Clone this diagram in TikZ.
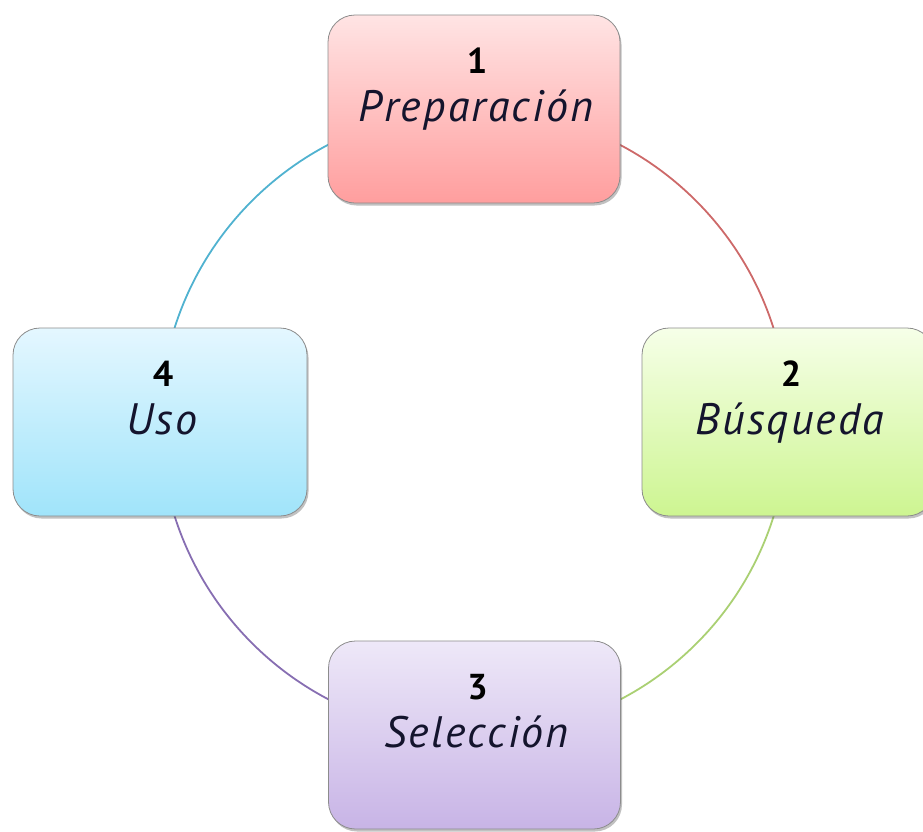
\documentclass[tikz,border=0pt]{standalone}
\usepackage{fontspec}
\newfontfamily\namefont[LetterSpace=5]{PT Sans}
\newfontfamily\digitfont{PT Sans}
\usetikzlibrary{shadows,calc}
\pgfdeclarelayer{bg}
\pgfsetlayers{bg,main}
\definecolor{pTop}{RGB}{255,228,228}
\definecolor{pBot}{RGB}{255,158,158}
\definecolor{gTop}{RGB}{246,255,232}
\definecolor{gBot}{RGB}{205,245,145}
\definecolor{vTop}{RGB}{238,232,248}
\definecolor{vBot}{RGB}{200,180,230}
\definecolor{bTop}{RGB}{228,247,255}
\definecolor{bBot}{RGB}{160,228,250}
\definecolor{arcRed}{RGB}{205,105,105}
\definecolor{arcGreen}{RGB}{170,208,115}
\definecolor{arcViolet}{RGB}{135,110,178}
\definecolor{arcBlue}{RGB}{80,178,208}
\definecolor{edgeGray}{RGB}{140,140,140}
\definecolor{nameInk}{RGB}{20,20,45}
\tikzset{
  stagebox/.style={rectangle, rounded corners=27pt, minimum width=292pt,
    minimum height=188pt, draw=edgeGray, line width=0.8pt, inner sep=0pt,
    drop shadow={shadow xshift=1.5pt, shadow yshift=-2.5pt, opacity=0.35, fill=black!70}},
  numtext/.style={anchor=base, inner sep=0pt, font=\digitfont\bfseries\fontsize{36}{36}\selectfont},
  nametext/.style={anchor=base, inner sep=0pt, text=nameInk, font=\namefont\itshape\fontsize{44}{44}\selectfont},
  cyclearc/.style={line width=1.8pt}
}
\begin{document}
\begin{tikzpicture}[x=1pt,y=-1pt]
\useasboundingbox (0,0) rectangle (923,831);
\node[stagebox, top color=pTop, bottom color=pBot] (p1) at (474,109) {};
\node[stagebox, top color=gTop, bottom color=gBot] (p2) at (788,422) {};
\node[stagebox, top color=vTop, bottom color=vBot] (p3) at (474.5,735) {};
\node[stagebox, minimum width=294pt, top color=bTop, bottom color=bBot] (p4) at (160,422) {};
\foreach \b/\n/\t in {p1/1/Preparación, p2/2/Búsqueda, p3/3/Selección, p4/4/Uso}{
  \node[numtext] (\b num) at ($(\b.north)+(3,59)$) {\n};
  \node[nametext] (\b name) at ($(\b.north)+(2,107)$) {\t};
}
\begin{pgfonlayer}{bg}
\draw[cyclearc, arcRed] (p1.center) to[bend left=45] (p2.center);
\draw[cyclearc, arcGreen] (p2.center) to[bend left=45] (p3.center);
\draw[cyclearc, arcViolet] (p3.center) to[bend left=45] (p4.center);
\draw[cyclearc, arcBlue] (p4.center) to[bend left=45] (p1.center);
\end{pgfonlayer}
\end{tikzpicture}
\end{document}
